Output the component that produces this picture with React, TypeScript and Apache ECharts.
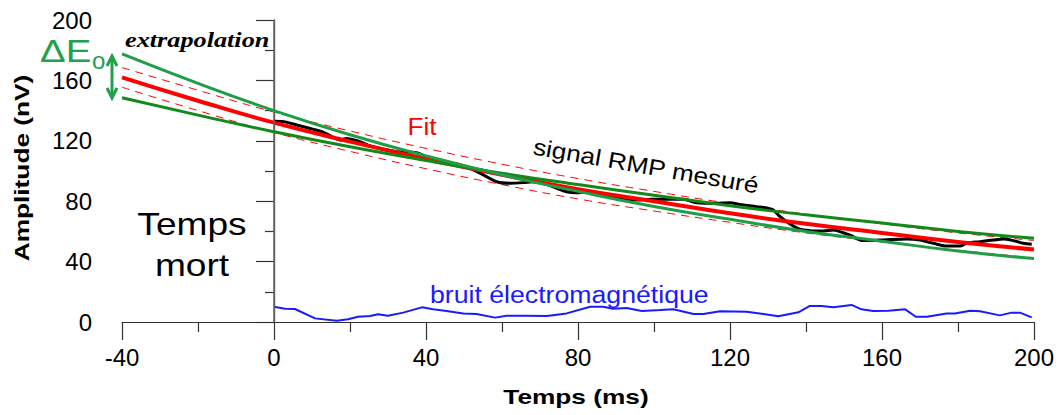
import React, { useEffect, useRef } from "react";
import * as echarts from "echarts";

const fitT = [-40, -20, 0, 20, 40, 60, 80, 100, 120, 140, 160, 180, 200];
const fitRed = [162, 146.5, 132, 119.5, 108, 97.5, 88, 80, 72, 65, 59, 53, 48];
const dashUpper = [168.5, 153.5, 139, 126.5, 115, 104.5, 95, 86.5, 78.5, 71.5, 65, 59, 54];
const dashLower = [155.5, 140, 125.5, 113, 101.5, 91, 81.5, 73.5, 66, 59, 53, 47.5, 42.5];
const greenSteep = [177.5, 158, 140, 124, 110, 97.5, 86.5, 76.5, 68, 60, 53.5, 47, 42];
const greenShallow = [148.5, 137, 126, 116, 107, 98.5, 91, 84, 77, 71, 65.5, 60, 55.5];

// Measured RMP signal
const sigT = [0, 2.5, 6, 10.4, 13, 15.6, 17.4, 19.1, 22.6, 25.3, 28.8, 32.3, 35.8, 37.5, 40.2, 43.7, 48.1, 51.6, 55.1, 58.6, 62.1, 65.6, 68.2, 71.8, 74.4, 77, 79.7, 82.3, 85.8, 89.3, 92.8, 96.3, 99.5, 103.3, 107.7, 111.2, 116.5, 120, 122.6, 127, 130, 131.4, 133.2, 135.8, 138.4, 141.1, 144.6, 147.2, 149.8, 151.6, 155, 160.4, 166.5, 170, 173.5, 177, 180.5, 182.3, 185.8, 189.3, 191.9, 194.6, 197.2, 199.4];
const sigV = [133, 132.7, 130.5, 127.6, 125.6, 122.3, 120.5, 121.6, 119.4, 116.6, 114.4, 112.8, 112.4, 112.1, 109.5, 106.8, 104.6, 101.8, 97.4, 92.9, 91.9, 92.3, 92.9, 91.2, 88.5, 86.3, 85.6, 86.3, 85.2, 83, 80.8, 80.8, 81.3, 81.3, 81.3, 79, 78.6, 79, 77.9, 76.4, 75.3, 74.2, 69.7, 64.9, 61.4, 60.5, 60.3, 60.9, 59.1, 57.5, 53.9, 54.3, 55, 54.3, 52.1, 50.3, 50.3, 52.1, 53.2, 54.3, 55, 53.9, 52.1, 51.5];

// Electromagnetic noise
const noiseT = [0, 2.9, 5.5, 10.8, 16.5, 19.5, 22.1, 25.3, 27.4, 30, 34, 38.9, 41.9, 45.4, 49.8, 53.3, 58.2, 61.2, 66.5, 71.8, 77, 83.2, 86.6, 89.2, 92.8, 96.8, 101.6, 105.1, 110.4, 113, 117.4, 124.4, 128.8, 132.7, 138, 141, 144.1, 147.2, 152, 154.6, 157.7, 161.7, 166.1, 168.9, 171.8, 177, 179.2, 183.2, 185.8, 191, 194.1, 196.3, 199.4];
const noiseV = [10.1, 8.8, 8.6, 2.4, 0.9, 1.8, 3.5, 4, 5.1, 4.2, 6.2, 9.7, 8.4, 7.3, 5.7, 5.3, 2.9, 4.2, 4.2, 4, 5.7, 10.1, 10.1, 8.8, 9.3, 7.3, 7.9, 8.4, 5.3, 5.3, 7.1, 6.8, 5.3, 3.8, 6.4, 10.6, 10.6, 9.7, 11.3, 8.4, 7.3, 7.5, 8.4, 3.5, 3.5, 5.7, 5.7, 7.5, 7.1, 4.4, 6.2, 6.2, 3.1];

const xName = "Temps (ms)";
const yName = "Amplitude (nV)";

const SANS = '"Liberation Sans", Arial, sans-serif';
const SERIF = '"Liberation Serif", "Times New Roman", serif';
const GREEN_A = "#1f9e45";
const GREEN_B = "#118a1a";
const GREEN_TXT = "#22a04a";

const pairs = (xs: number[], ys: number[]) => xs.map((x, i) => [x, ys[i]]);

export default function App() {
  const ref = useRef<HTMLDivElement>(null);
  useEffect(() => {
    if (!ref.current) return;
    const chart = echarts.init(ref.current, undefined, { renderer: "svg" });
    const txt = (text: string, x: number, y: number, opts: any = {}) => ({
      type: "text",
      x,
      y,
      rotation: opts.rotation || 0,
      scaleX: opts.scaleX || 1,
      z: 100,
      style: {
        text,
        x: 0,
        y: 0,
        fill: opts.fill || "#000",
        fontSize: opts.fontSize || 22,
        fontFamily: opts.fontFamily || SANS,
        fontWeight: opts.fontWeight || "normal",
        fontStyle: opts.fontStyle || "normal",
        align: opts.align || "center",
        verticalAlign: "middle",
      },
    });
    chart.setOption({
      animation: false,
      backgroundColor: "#fff",
      grid: { left: 122, right: 26, top: 20, bottom: 93, containLabel: false },
      xAxis: {
        type: "value",
        min: -40,
        max: 200,
        interval: 40,
        axisLine: { show: true, onZero: true, lineStyle: { color: "#333", width: 1.2 } },
        axisTick: { show: true, length: 18, lineStyle: { color: "#333", width: 1.2 } },
        minorTick: { show: true, splitNumber: 2, length: 10, lineStyle: { color: "#333", width: 1.2 } },
        axisLabel: { fontSize: 24, margin: 23, color: "#000", fontFamily: SANS },
        splitLine: { show: false },
        minorSplitLine: { show: false },
      },
      yAxis: {
        type: "value",
        min: 0,
        max: 200,
        interval: 40,
        axisLine: { show: true, lineStyle: { color: "#555", width: 1.4 } },
        axisTick: { show: true, length: 18, lineStyle: { color: "#333", width: 1.2 } },
        minorTick: { show: true, splitNumber: 2, length: 9, lineStyle: { color: "#333", width: 1.2 } },
        axisLabel: { fontSize: 24, margin: 30, color: "#000", fontFamily: SANS },
        splitLine: { show: false },
        minorSplitLine: { show: false },
      },
      series: [
        {
          type: "line",
          data: pairs(fitT, dashUpper),
          smooth: true,
          symbol: "none",
          lineStyle: { color: "#ff0000", width: 1, type: [8, 6] },
          z: 2,
        },
        {
          type: "line",
          data: pairs(fitT, dashLower),
          smooth: true,
          symbol: "none",
          lineStyle: { color: "#ff0000", width: 1, type: [8, 6] },
          z: 2,
        },
        {
          type: "line",
          data: pairs(sigT, sigV),
          smooth: 0.3,
          symbol: "none",
          lineStyle: { color: "#000", width: 3 },
          z: 3,
        },
        {
          type: "line",
          data: pairs(fitT, fitRed),
          smooth: true,
          symbol: "none",
          lineStyle: { color: "#ff0000", width: 4 },
          z: 4,
          markLine: {
            silent: true,
            symbol: ["none", "none"],
            label: { show: false },
            lineStyle: { color: "#666", width: 1.5, type: "solid" },
            data: [{ xAxis: 0 }],
          },
        },
        {
          type: "line",
          data: pairs(fitT, greenShallow),
          smooth: true,
          symbol: "none",
          lineStyle: { color: GREEN_B, width: 3 },
          z: 5,
        },
        {
          type: "line",
          data: pairs(fitT, greenSteep),
          smooth: true,
          symbol: "none",
          lineStyle: { color: GREEN_A, width: 3 },
          z: 5,
        },
        {
          type: "line",
          data: pairs(noiseT, noiseV),
          smooth: false,
          symbol: "none",
          lineStyle: { color: "#1a1aff", width: 2 },
          z: 3,
        },
      ],
      graphic: [
        txt(yName, 21, 168, { fontSize: 21, fontWeight: "bold", rotation: Math.PI / 2, scaleX: 1.25 }),
        txt(xName, 576, 396, { fontSize: 21, fontWeight: "bold", scaleX: 1.25 }),
        txt("extrapolation", 125, 40, {
          fontSize: 21,
          fontFamily: SERIF,
          fontWeight: "bold",
          fontStyle: "italic",
          align: "left",
          scaleX: 1.25,
        }),
        txt("ΔE", 40, 51, { fontSize: 32, fill: GREEN_TXT, align: "left", scaleX: 1.2 }),
        txt("o", 92, 60, { fontSize: 24, fill: GREEN_TXT, align: "left" }),
        {
          type: "line",
          z: 100,
          shape: { x1: 112, y1: 57, x2: 112, y2: 97 },
          style: { stroke: GREEN_TXT, lineWidth: 3 },
        },
        {
          type: "polyline",
          z: 100,
          shape: { points: [[107, 66], [112, 56], [117, 66]] },
          style: { stroke: GREEN_TXT, lineWidth: 3, fill: null },
        },
        {
          type: "polyline",
          z: 100,
          shape: { points: [[107, 88], [112, 98], [117, 88]] },
          style: { stroke: GREEN_TXT, lineWidth: 3, fill: null },
        },
        txt("Fit", 422, 126, { fontSize: 24, fill: "#ff0000", scaleX: 1.09 }),
        txt("signal RMP mesuré", 646, 166, { fontSize: 23, rotation: -0.173, scaleX: 1.14 }),
        txt("Temps", 192, 224, { fontSize: 32, scaleX: 1.16 }),
        txt("mort", 192, 265, { fontSize: 32, scaleX: 1.16 }),
        txt("bruit électromagnétique", 430, 295, { fontSize: 23, fill: "#1a1aff", align: "left", scaleX: 1.16 }),
      ],
    });
    return () => chart.dispose();
  }, []);
  return (
    <div
      ref={ref}
      style={{ position: "fixed", left: 0, top: 0, width: 1060, height: 415, background: "#fff" }}
    />
  );
}
